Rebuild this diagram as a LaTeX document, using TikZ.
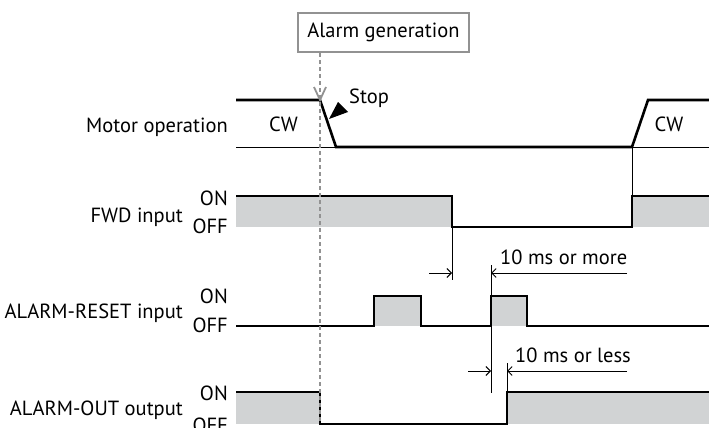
\documentclass[tikz,border=0pt]{standalone}
\usepackage{fontspec}
\setmainfont{PT Sans}
\usetikzlibrary{arrows.meta}
\definecolor{fillgray}{HTML}{D1D3D4}
\definecolor{boxgray}{HTML}{929292}
\begin{document}
\begin{tikzpicture}[x=1pt,y=-1pt,
  txt/.style={inner sep=0pt,font=\fontsize{20.5}{24}\selectfont},
  lbl/.style={txt,anchor=base east},
  sig/.style={line width=2.6pt,line join=miter},
  thin/.style={line width=0.9pt},
  dim/.style={line width=0.9pt,-{Straight Barb[length=4.5pt,width=9pt,line width=0.9pt]}},
  wfill/.style={fill=fillgray,draw=none}]
\useasboundingbox (0,0) rectangle (709,428);
% alarm box
\node[txt,draw=boxgray,line width=2.2pt,minimum width=171pt,minimum height=39pt] (alarm) at (383.5,32.5) {Alarm generation};
% labels
\node[lbl] (mot) at (228,132) {Motor operation};
\node[txt,anchor=base] (cw1) at (283.5,131) {CW};
\node[txt,anchor=base] (cw2) at (669,131) {CW};
\node[txt,anchor=base west] (stop) at (349,103) {Stop};
\node[lbl] (fwd) at (183,222) {FWD input};
\node[lbl] (fon) at (228,205) {ON};
\node[lbl] (foff) at (228,233) {OFF};
\node[lbl] (ar) at (183,318) {ALARM-RESET input};
\node[lbl] (aron) at (228,303) {ON};
\node[lbl] (aroff) at (228,332) {OFF};
\node[lbl] (ao) at (183,415) {ALARM-OUT output};
\node[lbl] (aoon) at (228,400) {ON};
\node[lbl] (aooff) at (228,432) {OFF};
\node[txt,anchor=base west] (more) at (500,264) {10 ms or more};
\node[txt,anchor=base west] (less) at (515,362) {10 ms or less};
% fills
\fill[fillgray] (236,196) rectangle (452,227);
\fill[fillgray] (632,196) rectangle (709,227);
\fill[fillgray] (374,296) rectangle (421,326);
\fill[fillgray] (491,296) rectangle (527,326);
\fill[fillgray] (236,392) rectangle (320,424);
\fill[fillgray] (507,392) rectangle (709,424);
% motor
\draw[thin] (236,147) -- (709,147);
\draw[sig] (236,100) -- (320,100) -- (336,147) -- (632,147) -- (648,100) -- (709,100);
\draw[thin] (632,147) -- (632,196);
\fill (329,119) -- (338,102) -- (348,112) -- cycle;
% FWD
\draw[sig] (236,196) -- (452,196) -- (452,227) -- (632,227) -- (632,196) -- (709,196);
% ALARM-RESET
\draw[sig] (236,326) -- (374,326) -- (374,296) -- (421,296) -- (421,326) -- (491,326) -- (491,296) -- (527,296) -- (527,326) -- (709,326);
% ALARM-OUT
\draw[sig] (236,392) -- (320,392) -- (320,424) -- (507,424) -- (507,392) -- (709,392);
% dimensions
\draw[thin] (452,227) -- (452,280);
\draw[thin] (491,265) -- (491,393);
\draw[thin] (507,363) -- (507,392);
\draw[dim] (429,273) -- (452,273);
\draw[dim] (627,273) -- (491,273);
\draw[dim] (468,371) -- (491,371);
\draw[dim] (627,371) -- (507,371);
% dashed alarm line
\coordinate (hit) at (320,100);
\coordinate (low) at (320,424);
\draw[boxgray,line width=2.6pt,dash pattern=on 4pt off 3pt] (alarm.south -| hit) -- (low);
\draw[boxgray,line width=1.8pt] (314,87) -- (hit) -- (326,87);
\end{tikzpicture}
\end{document}
